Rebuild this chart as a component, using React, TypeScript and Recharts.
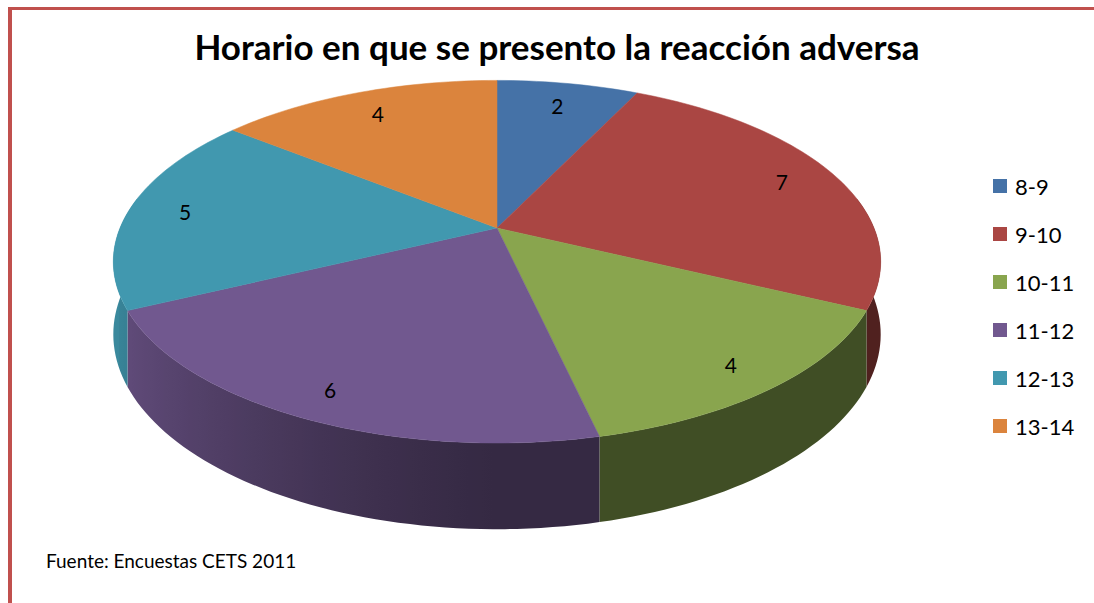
import { PieChart, Pie, Cell, Legend } from "recharts";

// tally of answers, one slice per hour band
const categories = ["8-9", "9-10", "10-11", "11-12", "12-13", "13-14"];
const counts = [2, 7, 4, 6, 5, 4];
const colors = ["#4572A7", "#AA4643", "#89A54E", "#71588F", "#4198AF", "#DB843D"];

const title = "Horario en que se presento la reacción adversa";
const source = "Fuente: Encuestas CETS 2011";

const data = categories.map((name, i) => ({ name, value: counts[i] }));

const FONT = "Lato, 'Open Sans', sans-serif";

// fake 3D: squash + a bit of perspective, then extrude downwards
const TILT = 0.4643;
const PERSP = 0.186;
const DEPTH = 0.186;

function project(cx: number, cy: number, r: number, deg: number) {
  const a = (deg * Math.PI) / 180;
  const u = Math.cos(a);
  const v = -Math.sin(a);
  const f = 1 / (1 - PERSP * v);
  return { x: cx + r * u * f, y: cy + r * TILT * v * f, f };
}

function shade(hex: string, k: number) {
  const n = parseInt(hex.slice(1), 16);
  const ch = [(n >> 16) & 255, (n >> 8) & 255, n & 255].map((c) => Math.round(c * k));
  return `rgb(${ch[0]},${ch[1]},${ch[2]})`;
}

function wallShade(deg: number) {
  const u = Math.cos((deg * Math.PI) / 180);
  return 0.47 + 0.43 * Math.pow(Math.max(0, -u), 1.3);
}

function TopSector(props: any) {
  const { cx, cy, outerRadius, startAngle, endAngle, fill } = props;
  const a1 = Math.min(startAngle, endAngle);
  const a2 = Math.max(startAngle, endAngle);
  const steps = Math.max(2, Math.ceil((a2 - a1) / 1.5));
  let d = `M${cx},${cy}`;
  for (let i = 0; i <= steps; i++) {
    const p = project(cx, cy, outerRadius, a1 + ((a2 - a1) * i) / steps);
    d += `L${p.x.toFixed(2)},${p.y.toFixed(2)}`;
  }
  d += "Z";
  return <path d={d} fill={fill} stroke={fill} strokeWidth={0.5} />;
}

function WallSector(props: any) {
  const { cx, cy, outerRadius: r, startAngle, endAngle, fill } = props;
  // only the front half of the rim is visible
  const a1 = Math.max(Math.min(startAngle, endAngle), -190);
  const a2 = Math.min(Math.max(startAngle, endAngle), 10);
  if (a2 <= a1) return <g />;
  const n = Math.ceil((a2 - a1) / 1.5);
  const top: string[] = [];
  const bottom: string[] = [];
  const pts: { x: number; deg: number }[] = [];
  for (let i = 0; i <= n; i++) {
    const t = a1 + ((a2 - a1) * i) / n;
    const p = project(cx, cy, r, t);
    top.push(`${p.x.toFixed(2)},${p.y.toFixed(2)}`);
    bottom.unshift(`${p.x.toFixed(2)},${(p.y + DEPTH * r * p.f).toFixed(2)}`);
    pts.push({ x: p.x, deg: t });
  }
  const xs = pts.map((p) => p.x);
  const x1 = Math.min(...xs);
  const x2 = Math.max(...xs);
  const id = `wall-${Math.round(startAngle * 10)}`;
  const stops = pts
    .filter((p) => p.deg >= -180 && p.deg <= 0)
    .map((p) => ({ off: x2 > x1 ? (p.x - x1) / (x2 - x1) : 0, c: shade(fill, wallShade(p.deg)) }));
  if (!stops.length) stops.push({ off: 0, c: shade(fill, wallShade((a1 + a2) / 2)) });
  return (
    <g>
      <defs>
        <linearGradient id={id} gradientUnits="userSpaceOnUse" x1={x1} y1={0} x2={x2} y2={0}>
          {stops.map((s, i) => (
            <stop key={i} offset={s.off} stopColor={s.c} />
          ))}
        </linearGradient>
      </defs>
      <path d={`M${top.join("L")}L${bottom.join("L")}Z`} fill={`url(#${id})`} />
    </g>
  );
}

function renderLabel(props: any) {
  const { cx, cy, outerRadius, midAngle, value } = props;
  const p = project(cx, cy, outerRadius * 0.85, midAngle);
  return (
    <text x={p.x} y={p.y} textAnchor="middle" dominantBaseline="central" fontSize={21} fontFamily={FONT} fill="#000">
      {value}
    </text>
  );
}

function renderLegend(props: any) {
  const items = (props.payload || [])
    .filter((p: any) => p.type !== "none")
    .slice()
    .sort((a: any, b: any) => categories.indexOf(a.value) - categories.indexOf(b.value));
  return (
    <div>
      {items.map((p: any, i: number) => (
        <div key={i} style={{ display: "flex", alignItems: "center", height: 48, fontSize: 22, fontFamily: FONT, color: "#000" }}>
          <span style={{ display: "inline-block", width: 14, height: 14, background: p.color, marginRight: 8 }} />
          <span>{p.value}</span>
        </div>
      ))}
    </div>
  );
}

export default function App() {
  return (
    <div style={{ position: "relative", width: 1094, height: 603, overflow: "hidden", background: "#fff" }}>
      <style>{"body{margin:0}"}</style>
      <div
        style={{
          position: "absolute", top: 7, left: 8, width: 2000, height: 2000,
          borderTop: "3px solid #c0504d", borderLeft: "4px solid #c0504d",
        }}
      />
      <div
        style={{
          position: "absolute", top: 25, left: 0, width: 1114, textAlign: "center",
          fontFamily: FONT, fontWeight: 700, fontSize: 35, color: "#000",
        }}
      >
        {title}
      </div>
      <div style={{ position: "absolute", top: 549, left: 46, fontFamily: FONT, fontSize: 19, color: "#000" }}>
        {source}
      </div>
      <div style={{ position: "absolute", top: 0, left: 0 }}>
        <PieChart width={1094} height={603} margin={{ top: 0, right: 0, bottom: 0, left: 0 }}>
          <Pie
            data={data}
            dataKey="value"
            nameKey="name"
            cx={497}
            cy={228}
            outerRadius={377}
            startAngle={90}
            endAngle={-270}
            stroke="none"
            legendType="none"
            shape={WallSector}
            isAnimationActive={false}
          >
            {data.map((_, i) => (
              <Cell key={i} fill={colors[i]} />
            ))}
          </Pie>
          <Pie
            data={data}
            dataKey="value"
            nameKey="name"
            cx={497}
            cy={228}
            outerRadius={377}
            startAngle={90}
            endAngle={-270}
            stroke="none"
            shape={TopSector}
            label={renderLabel}
            labelLine={false}
            isAnimationActive={false}
          >
            {data.map((_, i) => (
              <Cell key={i} fill={colors[i]} />
            ))}
          </Pie>
          <Legend
            layout="vertical"
            verticalAlign="top"
            align="right"
            content={renderLegend}
            wrapperStyle={{ top: 162, left: 993, right: "auto", width: 100 }}
          />
        </PieChart>
      </div>
    </div>
  );
}
